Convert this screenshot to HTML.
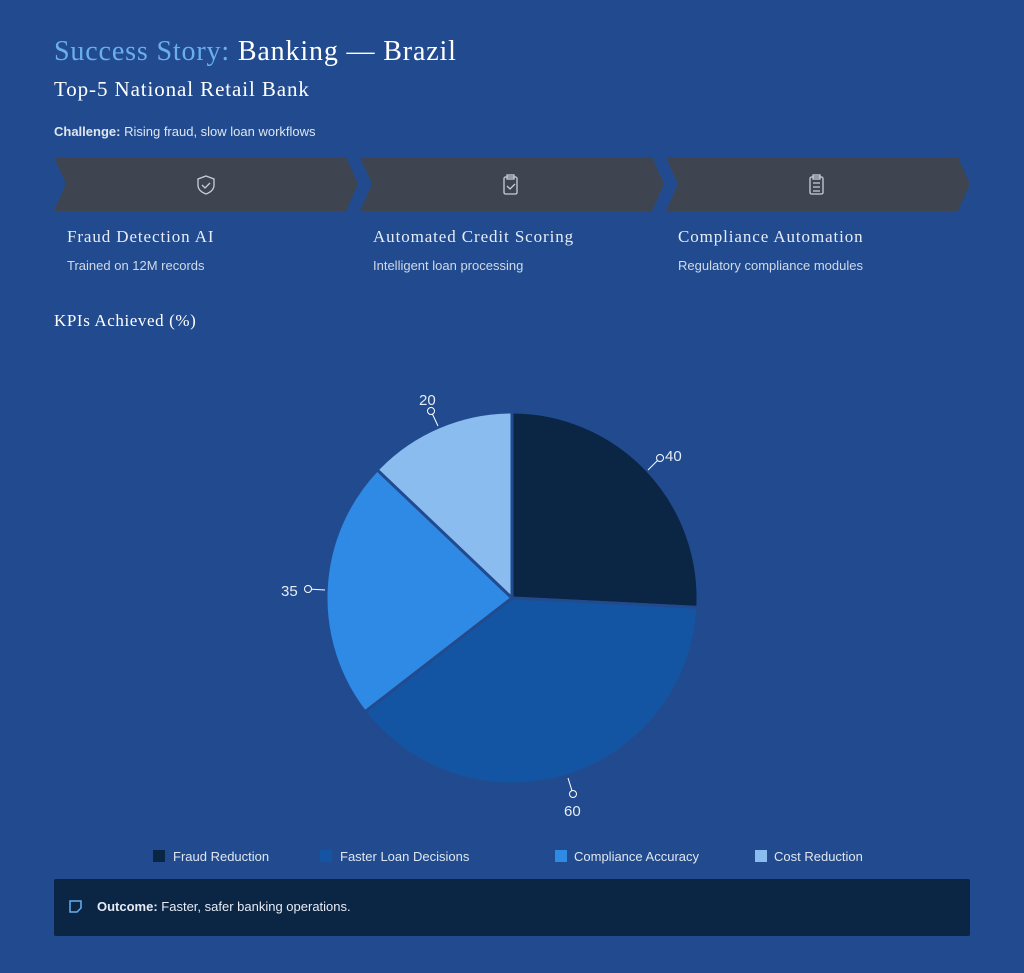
<!DOCTYPE html>
<html><head><style>
body{margin:0;width:1024px;height:973px;background:#214b8e;font-family:"Liberation Sans",sans-serif;color:#fff;position:relative;overflow:hidden}
.a{position:absolute;white-space:nowrap}
.serif{font-family:"Liberation Serif","DejaVu Serif",serif}
</style></head><body>
<div class="a serif" style="left:54px;top:36px;font-size:28px;letter-spacing:0.85px"><span style="color:#6aaef0">Success Story:</span> Banking — Brazil</div>
<div class="a serif" style="left:54px;top:77px;font-size:21px;letter-spacing:0.9px">Top-5 National Retail Bank</div>
<div class="a" style="left:54px;top:124px;font-size:13px;color:#dfe6f0"><b>Challenge:</b> Rising fraud, slow loan workflows</div>
<svg class="a" style="left:0;top:0" width="1024" height="973">
<g fill="#3f4550">
<polygon points="54,157 346,157 358,184 346,211 54,211 66,184"/>
<polygon points="360,157 652,157 664,184 652,211 360,211 372,184"/>
<polygon points="666,157 958,157 970,184 958,211 666,211 678,184"/>
</g>
<g fill="none" stroke="#c9ced6" stroke-width="1.3">
<path d="M206,176 l8,3 v6 q0,6 -8,9 q-8,-3 -8,-9 v-6z"/><path d="M202,185 l3,3 l5,-5"/>
<rect x="504" y="177" width="13" height="17" rx="1.5"/><rect x="507" y="175" width="7" height="4"/><path d="M507,186 l3,3 l5,-5"/>
<rect x="810" y="177" width="13" height="17" rx="1.5"/><rect x="813" y="175" width="7" height="4"/><path d="M813,183h7M813,187h7M813,191h7"/>
</g>
<g stroke="#214b8e" stroke-width="3">
<path d="M512,598 L512,412 A186,186 0 0 1 697.8,607.4Z" fill="#0b2545"/>
<path d="M512,598 L697.8,607.4 A186,186 0 0 1 364.9,711.8Z" fill="#1455a3"/>
<path d="M512,598 L364.9,711.8 A186,186 0 0 1 377.2,469.8Z" fill="#2f8ae6"/>
<path d="M512,598 L377.2,469.8 A186,186 0 0 1 512,412Z" fill="#8bbcf0"/>
</g>
<g stroke="#fff" stroke-width="1" fill="none">
<line x1="648" y1="470" x2="660" y2="458"/><circle cx="660" cy="458" r="3.5" fill="#214b8e"/>
<line x1="568" y1="778" x2="573" y2="794"/><circle cx="573" cy="794" r="3.5" fill="#214b8e"/>
<line x1="325" y1="590" x2="308" y2="589"/><circle cx="308" cy="589" r="3.5" fill="#214b8e"/>
<line x1="438" y1="426" x2="431" y2="411"/><circle cx="431" cy="411" r="3.5" fill="#214b8e"/>
</g>
<g fill="#e6ecf5" font-size="15" font-family="Liberation Sans,sans-serif">
<text x="665" y="461">40</text><text x="564" y="816">60</text><text x="281" y="596">35</text><text x="419" y="405">20</text>
</g>
<rect x="153" y="850" width="12" height="12" fill="#0b2545"/>
<rect x="320" y="850" width="12" height="12" fill="#1455a3"/>
<rect x="555" y="850" width="12" height="12" fill="#2f8ae6"/>
<rect x="755" y="850" width="12" height="12" fill="#8bbcf0"/>
<rect x="54" y="879" width="916" height="57" rx="2" fill="#0b2545"/>
<path d="M70,901 h11 v7 l-4,4 h-7z" fill="none" stroke="#6aaef0" stroke-width="1.5"/>
</svg>
<div class="a serif" style="left:67px;top:227px;font-size:17px;color:#e6ecf5;letter-spacing:0.9px">Fraud Detection AI</div>
<div class="a" style="left:67px;top:258px;font-size:13px;color:#d0dae8">Trained on 12M records</div>
<div class="a serif" style="left:373px;top:227px;font-size:17px;color:#e6ecf5;letter-spacing:0.9px">Automated Credit Scoring</div>
<div class="a" style="left:373px;top:258px;font-size:13px;color:#d0dae8">Intelligent loan processing</div>
<div class="a serif" style="left:678px;top:227px;font-size:17px;color:#e6ecf5;letter-spacing:0.9px">Compliance Automation</div>
<div class="a" style="left:678px;top:258px;font-size:13px;color:#d0dae8">Regulatory compliance modules</div>
<div class="a serif" style="left:54px;top:311px;font-size:17px;letter-spacing:0.6px">KPIs Achieved (%)</div>
<div class="a" style="left:173px;top:849px;font-size:13px;color:#dfe6f0">Fraud Reduction</div>
<div class="a" style="left:340px;top:849px;font-size:13px;color:#dfe6f0">Faster Loan Decisions</div>
<div class="a" style="left:574px;top:849px;font-size:13px;color:#dfe6f0">Compliance Accuracy</div>
<div class="a" style="left:774px;top:849px;font-size:13px;color:#dfe6f0">Cost Reduction</div>
<div class="a" style="left:97px;top:899px;font-size:13px;color:#e6ecf5"><b>Outcome:</b> Faster, safer banking operations.</div>
</body></html>
